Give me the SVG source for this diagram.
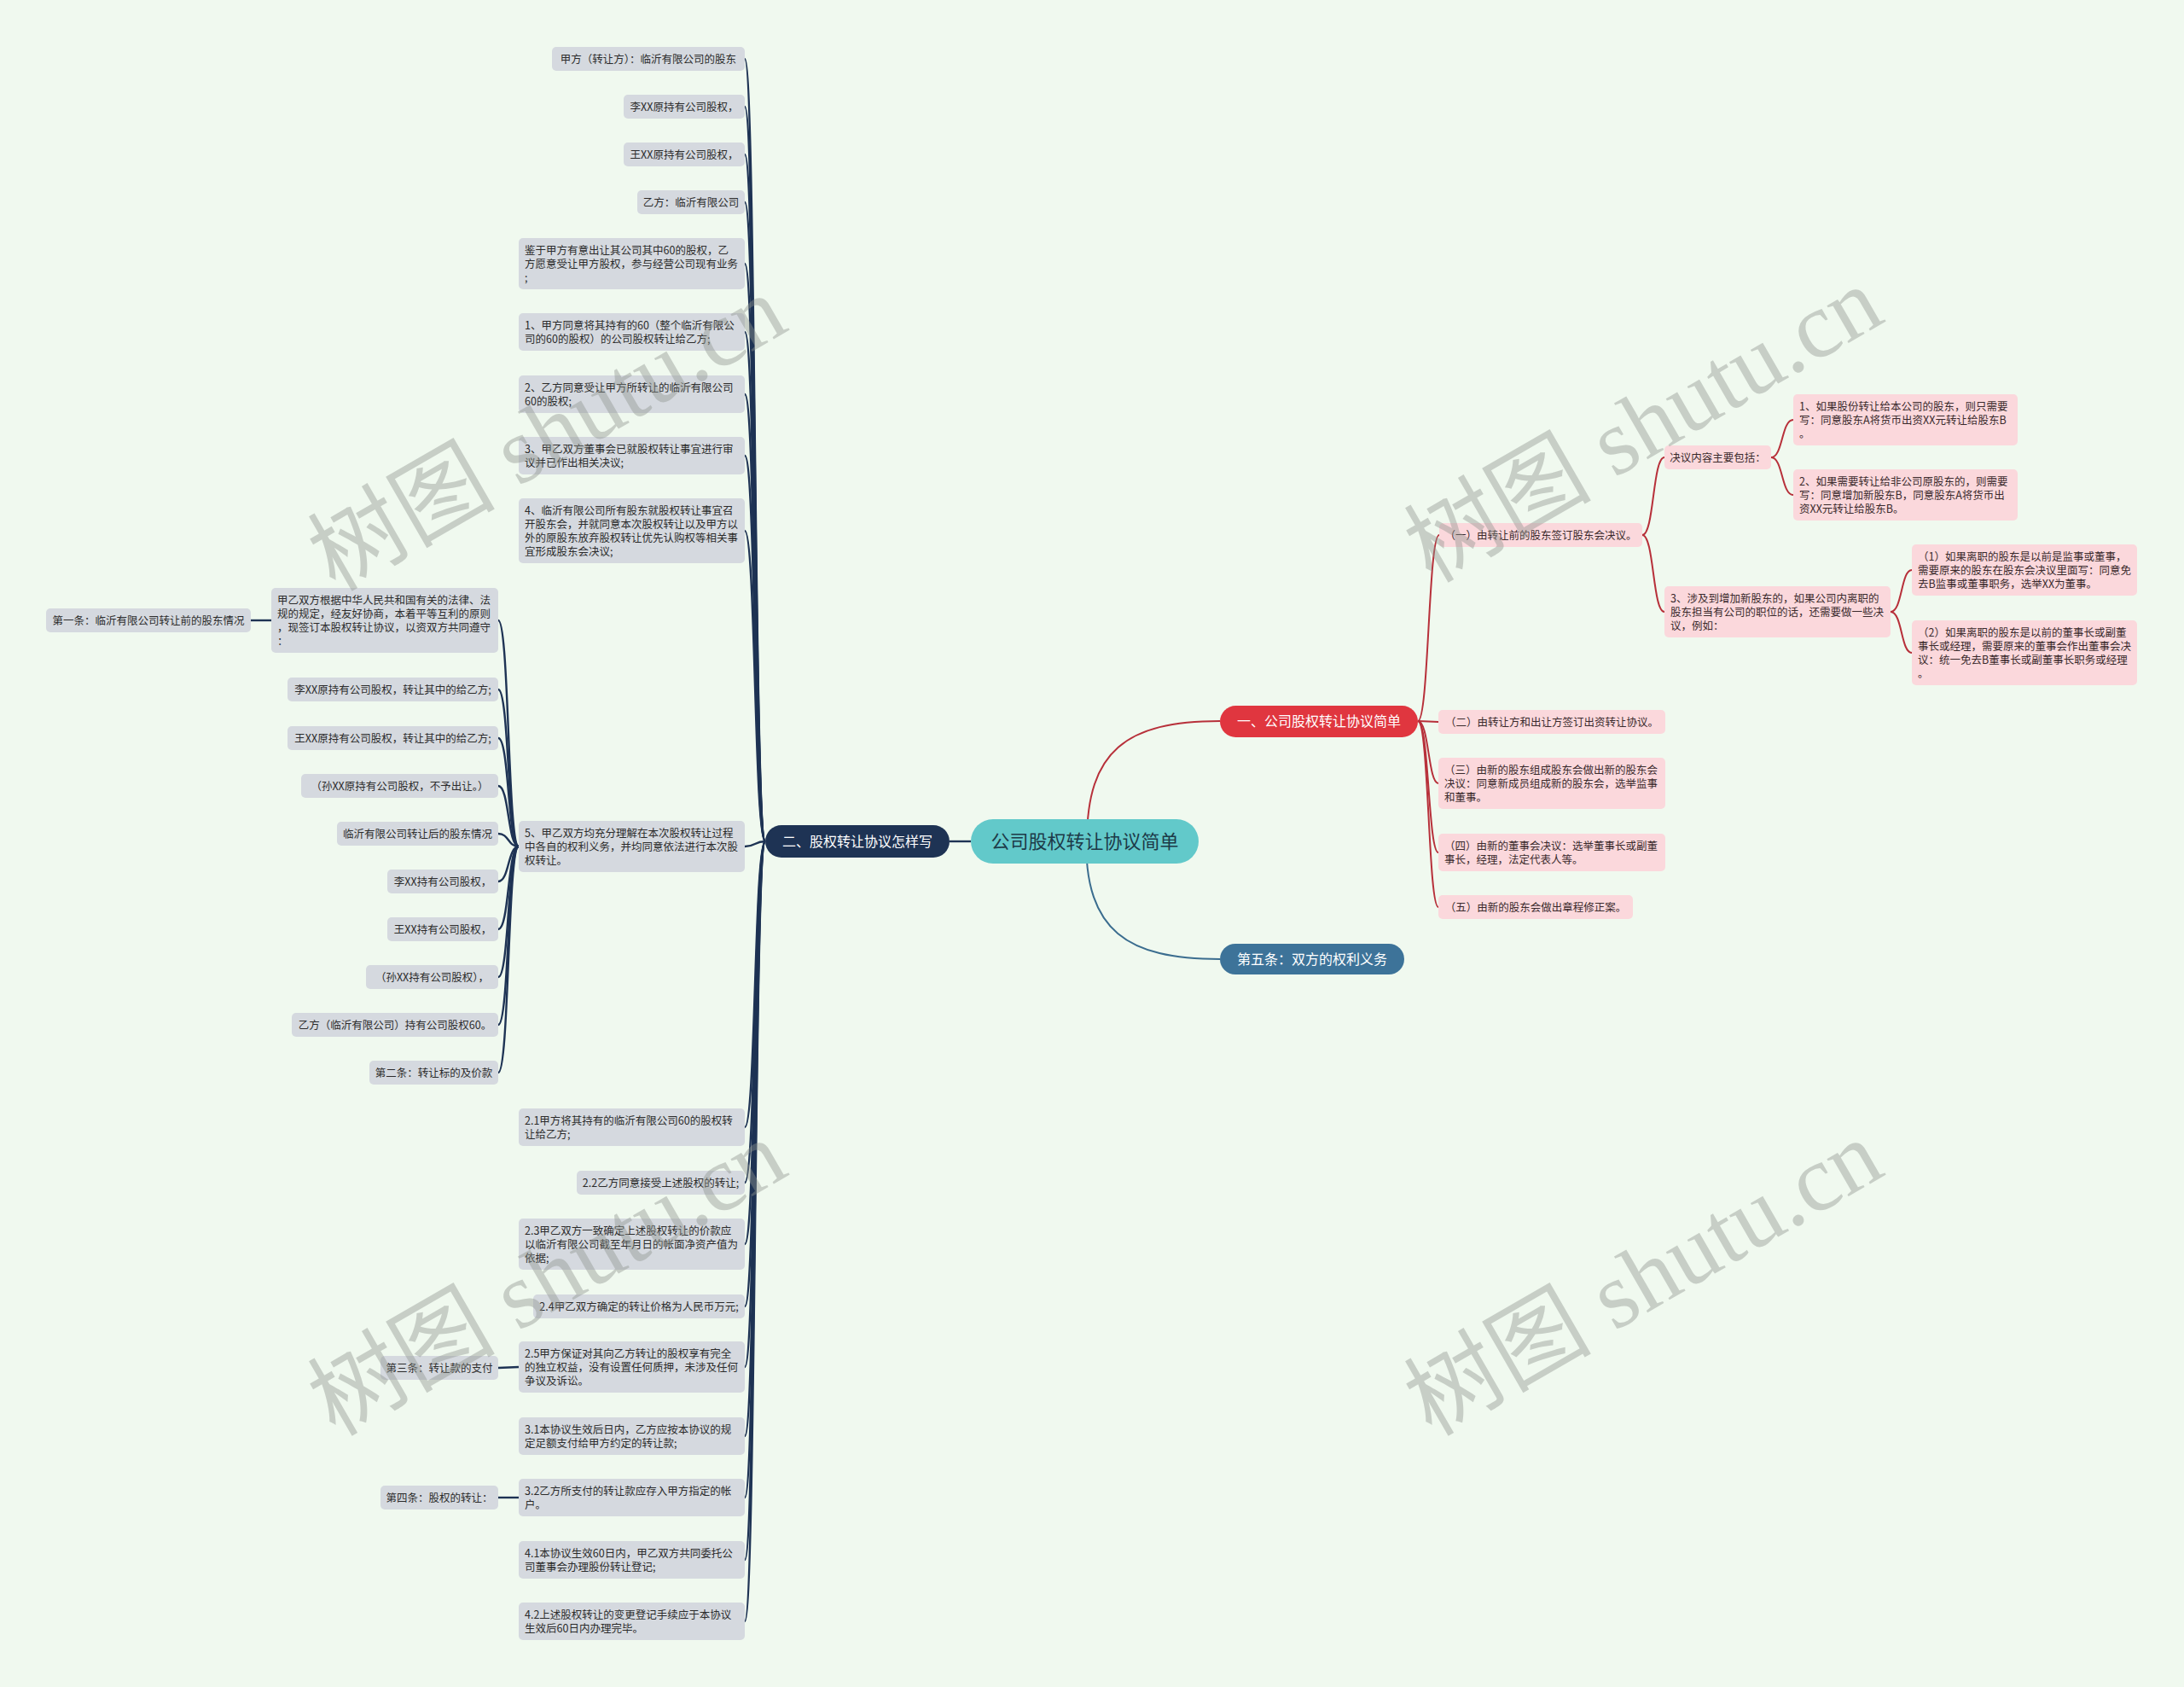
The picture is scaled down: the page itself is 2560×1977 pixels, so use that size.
<svg xmlns="http://www.w3.org/2000/svg" width="2560" height="1977" viewBox="0 0 2560 1977">
<style>
text{font-family:"Noto Sans CJK SC","Noto Sans",sans-serif;}
.g rect{fill:#d5d9df;}
.g text{font-size:12.5px;fill:#2b2b2b;}
.p rect{fill:#fbd8dc;}
.p text{font-size:12.5px;fill:#3a2a2c;}
.mid{text-anchor:middle;}
.c-navy{fill:none;stroke:#1e3354;stroke-width:2.4;}
.c-red{fill:none;stroke:#b7303a;stroke-width:2;}
.c-blue{fill:none;stroke:#3b6d8f;stroke-width:2;}
.wm{font-family:"Liberation Serif","Noto Sans CJK SC",serif;font-size:110px;fill:#8f958f;opacity:0.42;text-anchor:middle;}
</style>
<rect x="0" y="0" width="2560" height="1977" fill="#f0f9ef"/>

<g id="connectors">
<path class="c-red" d="M1274 986 C1274 880 1320 845 1430 845"/>
<path class="c-blue" d="M1273 986 C1273 1090 1320 1124 1430 1124"/>
<path class="c-navy" d="M1138 986 L1113 986"/>
<path class="c-navy" d="M897 986 C884 986 886 69 873 69"/>
<path class="c-navy" d="M897 986 C884 986 886 125 873 125"/>
<path class="c-navy" d="M897 986 C884 986 886 181 873 181"/>
<path class="c-navy" d="M897 986 C884 986 886 237 873 237"/>
<path class="c-navy" d="M897 986 C884 986 886 309 873 309"/>
<path class="c-navy" d="M897 986 C884 986 886 389 873 389"/>
<path class="c-navy" d="M897 986 C884 986 886 462 873 462"/>
<path class="c-navy" d="M897 986 C884 986 886 534 873 534"/>
<path class="c-navy" d="M897 986 C884 986 886 622 873 622"/>
<path class="c-navy" d="M897 986 C884 986 886 992 873 992"/>
<path class="c-navy" d="M897 986 C884 986 886 1321 873 1321"/>
<path class="c-navy" d="M897 986 C884 986 886 1386 873 1386"/>
<path class="c-navy" d="M897 986 C884 986 886 1458 873 1458"/>
<path class="c-navy" d="M897 986 C884 986 886 1531 873 1531"/>
<path class="c-navy" d="M897 986 C884 986 886 1602 873 1602"/>
<path class="c-navy" d="M897 986 C884 986 886 1683 873 1683"/>
<path class="c-navy" d="M897 986 C884 986 886 1755 873 1755"/>
<path class="c-navy" d="M897 986 C884 986 886 1828 873 1828"/>
<path class="c-navy" d="M897 986 C884 986 886 1900 873 1900"/>
<path class="c-navy" d="M608 992 C595 992 597 727 584 727"/>
<path class="c-navy" d="M608 992 C595 992 597 808 584 808"/>
<path class="c-navy" d="M608 992 C595 992 597 865 584 865"/>
<path class="c-navy" d="M608 992 C595 992 597 921 584 921"/>
<path class="c-navy" d="M608 992 C595 992 597 977 584 977"/>
<path class="c-navy" d="M608 992 C595 992 597 1033 584 1033"/>
<path class="c-navy" d="M608 992 C595 992 597 1089 584 1089"/>
<path class="c-navy" d="M608 992 C595 992 597 1145 584 1145"/>
<path class="c-navy" d="M608 992 C595 992 597 1201 584 1201"/>
<path class="c-navy" d="M608 992 C595 992 597 1257 584 1257"/>
<path class="c-navy" d="M318 727 L294 727"/>
<path class="c-navy" d="M608 1602 L584 1603"/>
<path class="c-navy" d="M608 1755 L584 1755"/>
<path class="c-red" d="M1662 845 C1675 845 1674 627 1687 627"/>
<path class="c-red" d="M1662 845 C1675 845 1674 846 1686 846"/>
<path class="c-red" d="M1662 845 C1675 845 1674 918 1686 918"/>
<path class="c-red" d="M1662 845 C1675 845 1674 999 1686 999"/>
<path class="c-red" d="M1662 845 C1675 845 1674 1063 1686 1063"/>
<path class="c-red" d="M1925 627 C1939 627 1937 536 1951 536"/>
<path class="c-red" d="M1925 627 C1939 627 1937 717 1951 717"/>
<path class="c-red" d="M2076 536 C2090 536 2088 492 2102 492"/>
<path class="c-red" d="M2076 536 C2090 536 2088 580 2102 580"/>
<path class="c-red" d="M2216 717 C2230 717 2228 668 2241 668"/>
<path class="c-red" d="M2216 717 C2230 717 2228 765 2241 765"/>
</g>

<g id="root"><rect x="1138" y="960" width="267" height="52" rx="26" fill="#62c9ca"/><text class="mid" x="1271.5" y="994" font-size="22" fill="#1d3a48">公司股权转让协议简单</text></g>
<g id="b2"><rect x="897" y="967" width="216" height="38" rx="19" fill="#1e3354"/><text class="mid" x="1005" y="992" font-size="16" fill="#ffffff">二、股权转让协议怎样写</text></g>
<g id="b1"><rect x="1430" y="827" width="232" height="37" rx="18.5" fill="#e0363f"/><text class="mid" x="1546" y="851" font-size="16" fill="#ffffff">一、公司股权转让协议简单</text></g>
<g id="b5"><rect x="1430" y="1106" width="216" height="36" rx="18" fill="#3d7399"/><text class="mid" x="1538" y="1130" font-size="16" fill="#ffffff">第五条：双方的权利义务</text></g>

<g id="n1" class="g"><rect x="647" y="55" width="226" height="28" rx="5"/><text class="mid" x="760" y="73.5">甲方（转让方）：临沂有限公司的股东</text></g>
<g id="n2" class="g"><rect x="731" y="111" width="142" height="28" rx="5"/><text class="mid" x="802" y="129.5">李XX原持有公司股权，</text></g>
<g id="n3" class="g"><rect x="731" y="167" width="142" height="28" rx="5"/><text class="mid" x="802" y="185.5">王XX原持有公司股权，</text></g>
<g id="n4" class="g"><rect x="747" y="223" width="126" height="28" rx="5"/><text class="mid" x="810" y="241.5">乙方：临沂有限公司</text></g>
<g id="n5" class="g"><rect x="608" y="279" width="265" height="60" rx="5"/><text x="615" y="297.5">鉴于甲方有意出让其公司其中60的股权，乙</text><text x="615" y="313.5">方愿意受让甲方股权，参与经营公司现有业务</text><text x="615" y="329.5">;</text></g>
<g id="n6" class="g"><rect x="608" y="367" width="265" height="44" rx="5"/><text x="615" y="385.5">1、甲方同意将其持有的60（整个临沂有限公</text><text x="615" y="401.5">司的60的股权）的公司股权转让给乙方;</text></g>
<g id="n7" class="g"><rect x="608" y="440" width="265" height="44" rx="5"/><text x="615" y="458.5">2、乙方同意受让甲方所转让的临沂有限公司</text><text x="615" y="474.5">60的股权;</text></g>
<g id="n8" class="g"><rect x="608" y="512" width="265" height="44" rx="5"/><text x="615" y="530.5">3、甲乙双方董事会已就股权转让事宜进行审</text><text x="615" y="546.5">议并已作出相关决议;</text></g>
<g id="n9" class="g"><rect x="608" y="584" width="265" height="76" rx="5"/><text x="615" y="602.5">4、临沂有限公司所有股东就股权转让事宜召</text><text x="615" y="618.5">开股东会，并就同意本次股权转让以及甲方以</text><text x="615" y="634.5">外的原股东放弃股权转让优先认购权等相关事</text><text x="615" y="650.5">宜形成股东会决议;</text></g>
<g id="n10" class="g"><rect x="608" y="962" width="265" height="60" rx="5"/><text x="615" y="980.5">5、甲乙双方均充分理解在本次股权转让过程</text><text x="615" y="996.5">中各自的权利义务，并均同意依法进行本次股</text><text x="615" y="1012.5">权转让。</text></g>
<g id="n11" class="g"><rect x="608" y="1299" width="265" height="44" rx="5"/><text x="615" y="1317.5">2.1甲方将其持有的临沂有限公司60的股权转</text><text x="615" y="1333.5">让给乙方;</text></g>
<g id="n12" class="g"><rect x="676" y="1372" width="197" height="28" rx="5"/><text class="mid" x="774.5" y="1390.5">2.2乙方同意接受上述股权的转让;</text></g>
<g id="n13" class="g"><rect x="608" y="1428" width="265" height="60" rx="5"/><text x="615" y="1446.5">2.3甲乙双方一致确定上述股权转让的价款应</text><text x="615" y="1462.5">以临沂有限公司截至年月日的帐面净资产值为</text><text x="615" y="1478.5">依据;</text></g>
<g id="n14" class="g"><rect x="625" y="1517" width="248" height="28" rx="5"/><text class="mid" x="749" y="1535.5">2.4甲乙双方确定的转让价格为人民币万元;</text></g>
<g id="n15" class="g"><rect x="608" y="1572" width="265" height="60" rx="5"/><text x="615" y="1590.5">2.5甲方保证对其向乙方转让的股权享有完全</text><text x="615" y="1606.5">的独立权益，没有设置任何质押，未涉及任何</text><text x="615" y="1622.5">争议及诉讼。</text></g>
<g id="n16" class="g"><rect x="608" y="1661" width="265" height="44" rx="5"/><text x="615" y="1679.5">3.1本协议生效后日内，乙方应按本协议的规</text><text x="615" y="1695.5">定足额支付给甲方约定的转让款;</text></g>
<g id="n17" class="g"><rect x="608" y="1733" width="265" height="44" rx="5"/><text x="615" y="1751.5">3.2乙方所支付的转让款应存入甲方指定的帐</text><text x="615" y="1767.5">户。</text></g>
<g id="n18" class="g"><rect x="608" y="1806" width="265" height="44" rx="5"/><text x="615" y="1824.5">4.1本协议生效60日内，甲乙双方共同委托公</text><text x="615" y="1840.5">司董事会办理股份转让登记;</text></g>
<g id="n19" class="g"><rect x="608" y="1878" width="265" height="44" rx="5"/><text x="615" y="1896.5">4.2上述股权转让的变更登记手续应于本协议</text><text x="615" y="1912.5">生效后60日内办理完毕。</text></g>

<g id="s1" class="g"><rect x="318" y="689" width="266" height="76" rx="5"/><text x="325" y="707.5">甲乙双方根据中华人民共和国有关的法律、法</text><text x="325" y="723.5">规的规定，经友好协商，本着平等互利的原则</text><text x="325" y="739.5">，现签订本股权转让协议，以资双方共同遵守</text><text x="325" y="755.5">：</text></g>
<g id="s2" class="g"><rect x="337" y="794" width="247" height="28" rx="5"/><text class="mid" x="460.5" y="812.5">李XX原持有公司股权，转让其中的给乙方;</text></g>
<g id="s3" class="g"><rect x="337" y="851" width="247" height="28" rx="5"/><text class="mid" x="460.5" y="869.5">王XX原持有公司股权，转让其中的给乙方;</text></g>
<g id="s4" class="g"><rect x="353" y="907" width="231" height="28" rx="5"/><text class="mid" x="468.5" y="925.5">（孙XX原持有公司股权，不予出让。）</text></g>
<g id="s5" class="g"><rect x="395" y="963" width="189" height="28" rx="5"/><text class="mid" x="489.5" y="981.5">临沂有限公司转让后的股东情况</text></g>
<g id="s6" class="g"><rect x="454" y="1019" width="130" height="28" rx="5"/><text class="mid" x="519" y="1037.5">李XX持有公司股权，</text></g>
<g id="s7" class="g"><rect x="454" y="1075" width="130" height="28" rx="5"/><text class="mid" x="519" y="1093.5">王XX持有公司股权，</text></g>
<g id="s8" class="g"><rect x="429" y="1131" width="155" height="28" rx="5"/><text class="mid" x="506.5" y="1149.5">（孙XX持有公司股权），</text></g>
<g id="s9" class="g"><rect x="342" y="1187" width="242" height="28" rx="5"/><text class="mid" x="463" y="1205.5">乙方（临沂有限公司）持有公司股权60。</text></g>
<g id="s10" class="g"><rect x="433" y="1243" width="151" height="28" rx="5"/><text class="mid" x="508.5" y="1261.5">第二条：转让标的及价款</text></g>
<g id="t1" class="g"><rect x="54" y="713" width="240" height="28" rx="5"/><text class="mid" x="174" y="731.5">第一条：临沂有限公司转让前的股东情况</text></g>
<g id="t3" class="g"><rect x="446" y="1589" width="138" height="28" rx="5"/><text class="mid" x="515" y="1607.5">第三条：转让款的支付</text></g>
<g id="t4" class="g"><rect x="446" y="1741" width="138" height="28" rx="5"/><text class="mid" x="515" y="1759.5">第四条：股权的转让：</text></g>

<g id="r1" class="p"><rect x="1687" y="613" width="238" height="28" rx="5"/><text class="mid" x="1806" y="631.5">（一）由转让前的股东签订股东会决议。</text></g>
<g id="r1a" class="p"><rect x="1951" y="522" width="125" height="28" rx="5"/><text class="mid" x="2013.5" y="540.5">决议内容主要包括：</text></g>
<g id="r1a1" class="p"><rect x="2102" y="462" width="263" height="60" rx="5"/><text x="2109" y="480.5">1、如果股份转让给本公司的股东，则只需要</text><text x="2109" y="496.5">写：同意股东A将货币出资XX元转让给股东B</text><text x="2109" y="512.5">。</text></g>
<g id="r1a2" class="p"><rect x="2102" y="550" width="263" height="60" rx="5"/><text x="2109" y="568.5">2、如果需要转让给非公司原股东的，则需要</text><text x="2109" y="584.5">写：同意增加新股东B，同意股东A将货币出</text><text x="2109" y="600.5">资XX元转让给股东B。</text></g>
<g id="r1b" class="p"><rect x="1951" y="687" width="265" height="60" rx="5"/><text x="1958" y="705.5">3、涉及到增加新股东的，如果公司内离职的</text><text x="1958" y="721.5">股东担当有公司的职位的话，还需要做一些决</text><text x="1958" y="737.5">议，例如：</text></g>
<g id="r1b1" class="p"><rect x="2241" y="638" width="264" height="60" rx="5"/><text x="2248" y="656.5">（1）如果离职的股东是以前是监事或董事，</text><text x="2248" y="672.5">需要原来的股东在股东会决议里面写：同意免</text><text x="2248" y="688.5">去B监事或董事职务，选举XX为董事。</text></g>
<g id="r1b2" class="p"><rect x="2241" y="727" width="264" height="76" rx="5"/><text x="2248" y="745.5">（2）如果离职的股东是以前的董事长或副董</text><text x="2248" y="761.5">事长或经理，需要原来的董事会作出董事会决</text><text x="2248" y="777.5">议：统一免去B董事长或副董事长职务或经理</text><text x="2248" y="793.5">。</text></g>
<g id="r2" class="p"><rect x="1686" y="832" width="266" height="28" rx="5"/><text class="mid" x="1819" y="850.5">（二）由转让方和出让方签订出资转让协议。</text></g>
<g id="r3" class="p"><rect x="1686" y="888" width="266" height="60" rx="5"/><text x="1693" y="906.5">（三）由新的股东组成股东会做出新的股东会</text><text x="1693" y="922.5">决议：同意新成员组成新的股东会，选举监事</text><text x="1693" y="938.5">和董事。</text></g>
<g id="r4" class="p"><rect x="1686" y="977" width="266" height="44" rx="5"/><text x="1693" y="995.5">（四）由新的董事会决议：选举董事长或副董</text><text x="1693" y="1011.5">事长，经理，法定代表人等。</text></g>
<g id="r5" class="p"><rect x="1686" y="1049" width="228" height="28" rx="5"/><text class="mid" x="1800" y="1067.5">（五）由新的股东会做出章程修正案。</text></g>

<g id="watermarks">
<text class="wm" transform="translate(660,540) rotate(-30)">树图 shutu.cn</text>
<text class="wm" transform="translate(1945,530) rotate(-30)">树图 shutu.cn</text>
<text class="wm" transform="translate(660,1530) rotate(-30)">树图 shutu.cn</text>
<text class="wm" transform="translate(1945,1530) rotate(-30)">树图 shutu.cn</text>
</g>
</svg>
